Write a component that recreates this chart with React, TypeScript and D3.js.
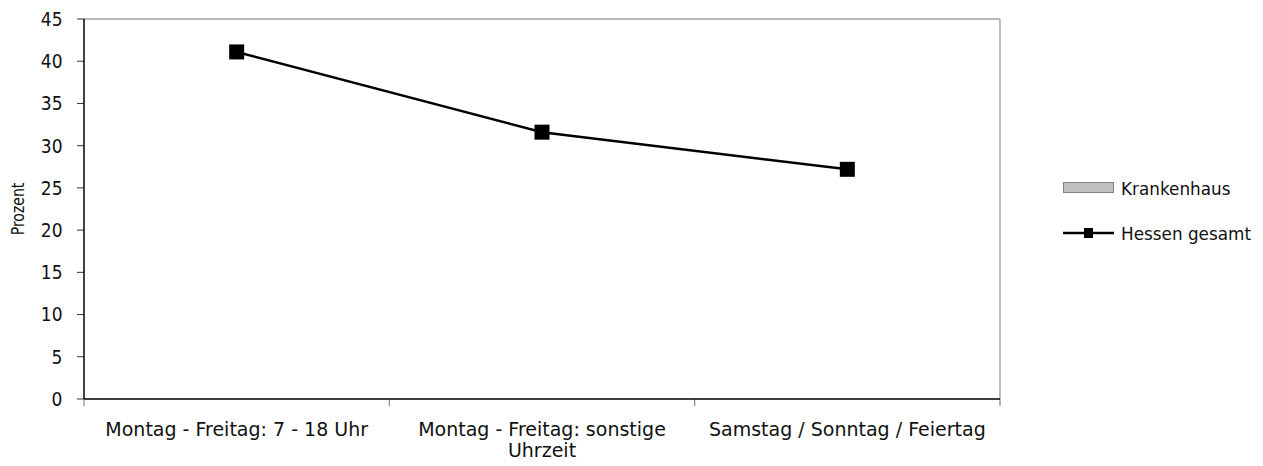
import React from "react";
import * as d3 from "d3";

// values
const categories = ["mf_day", "mf_other", "weekend"];
const categoryLabels: string[][] = [
  ["Montag - Freitag: 7 - 18 Uhr"],
  ["Montag - Freitag: sonstige", "Uhrzeit"],
  ["Samstag / Sonntag / Feiertag"],
];
const hessenGesamt = [41.1, 31.6, 27.2];
const yTicks = [0, 5, 10, 15, 20, 25, 30, 35, 40, 45];
const legendLabels = ["Krankenhaus", "Hessen gesamt"];

const width = 1263;
const height = 466;
const margin = { top: 19, right: 263, bottom: 67, left: 84 };
const font = "'DejaVu Sans', Verdana, sans-serif";

// DejaVu is wider than the original Tahoma-like face, so squeeze text a bit
const Txt: React.FC<{
  x: number;
  y: number;
  size: number;
  sx: number;
  anchor?: "start" | "middle" | "end";
  rotate?: number;
  dy?: string;
  children: React.ReactNode;
}> = ({ x, y, size, sx, anchor = "start", rotate = 0, dy, children }) => (
  <text
    transform={`translate(${x},${y}) rotate(${rotate}) scale(${sx},1)`}
    textAnchor={anchor}
    fontSize={size}
    dy={dy}
    fill="#111"
  >
    {children}
  </text>
);

const App: React.FC = () => {
  const x = d3
    .scaleBand<string>()
    .domain(categories)
    .range([margin.left, width - margin.right]);
  const y = d3
    .scaleLinear()
    .domain([0, 45])
    .range([height - margin.bottom, margin.top]);
  const cx = (i: number) => (x(categories[i]) ?? 0) + x.bandwidth() / 2;

  const line = d3
    .line<number>()
    .x((_, i) => cx(i))
    .y((d) => y(d));

  const x0 = margin.left;
  const x1 = width - margin.right;
  const y0 = height - margin.bottom;
  const y1 = margin.top;
  const edges = [...categories.map((c) => x(c) ?? 0), x1];
  const mk = 15;

  return (
    <svg
      width={width}
      height={height}
      style={{ position: "absolute", left: 0, top: 0, background: "#fff" }}
      fontFamily={font}
    >
      {/* frame */}
      <line x1={x0} x2={x1} y1={y1} y2={y1} stroke="#a0a0a0" strokeWidth={1.5} />
      <line x1={x1} x2={x1} y1={y1} y2={y0} stroke="#a8a8a8" strokeWidth={1.5} />

      {/* y axis */}
      {yTicks.map((t) => (
        <g key={t}>
          <line x1={x0 - 7} x2={x0} y1={y(t)} y2={y(t)} stroke="#333" strokeWidth={1} />
          <Txt x={62.5} y={y(t)} dy="0.36em" anchor="end" size={19} sx={0.9}>
            {t}
          </Txt>
        </g>
      ))}
      <line x1={x0} x2={x0} y1={y1} y2={y0} stroke="#000" strokeWidth={1.5} />

      {/* x axis */}
      {edges.map((e, i) => (
        <line key={i} x1={e} x2={e} y1={y0} y2={y0 + 7} stroke="#888" strokeWidth={1.2} />
      ))}
      <line x1={x0} x2={x1} y1={y0} y2={y0} stroke="#000" strokeWidth={1.5} />
      {categoryLabels.map((lines, i) =>
        lines.map((l, j) => (
          <Txt key={`${i}-${j}`} x={cx(i)} y={436 + j * 20.5} anchor="middle" size={19.5} sx={0.975}>
            {l}
          </Txt>
        ))
      )}

      <Txt x={24} y={209} anchor="middle" size={18} sx={0.78} rotate={-90}>
        Prozent
      </Txt>

      {/* series */}
      <path d={line(hessenGesamt) ?? ""} fill="none" stroke="#000" strokeWidth={2.5} />
      {hessenGesamt.map((v, i) => (
        <rect key={i} x={cx(i) - mk / 2} y={y(v) - mk / 2} width={mk} height={mk} fill="#000" />
      ))}

      {/* legend */}
      <g>
        <rect x={1063.5} y={182.5} width={50} height={10} fill="#c0c0c0" stroke="#808080" strokeWidth={1} />
        <Txt x={1121} y={194.5} size={18.3} sx={0.92}>
          {legendLabels[0]}
        </Txt>
        <line x1={1063} x2={1114} y1={233} y2={233} stroke="#000" strokeWidth={2.5} />
        <rect x={1084} y={228} width={9} height={10} fill="#000" />
        <Txt x={1121} y={239.5} size={18.3} sx={0.92}>
          {legendLabels[1]}
        </Txt>
      </g>
    </svg>
  );
};

export default App;
